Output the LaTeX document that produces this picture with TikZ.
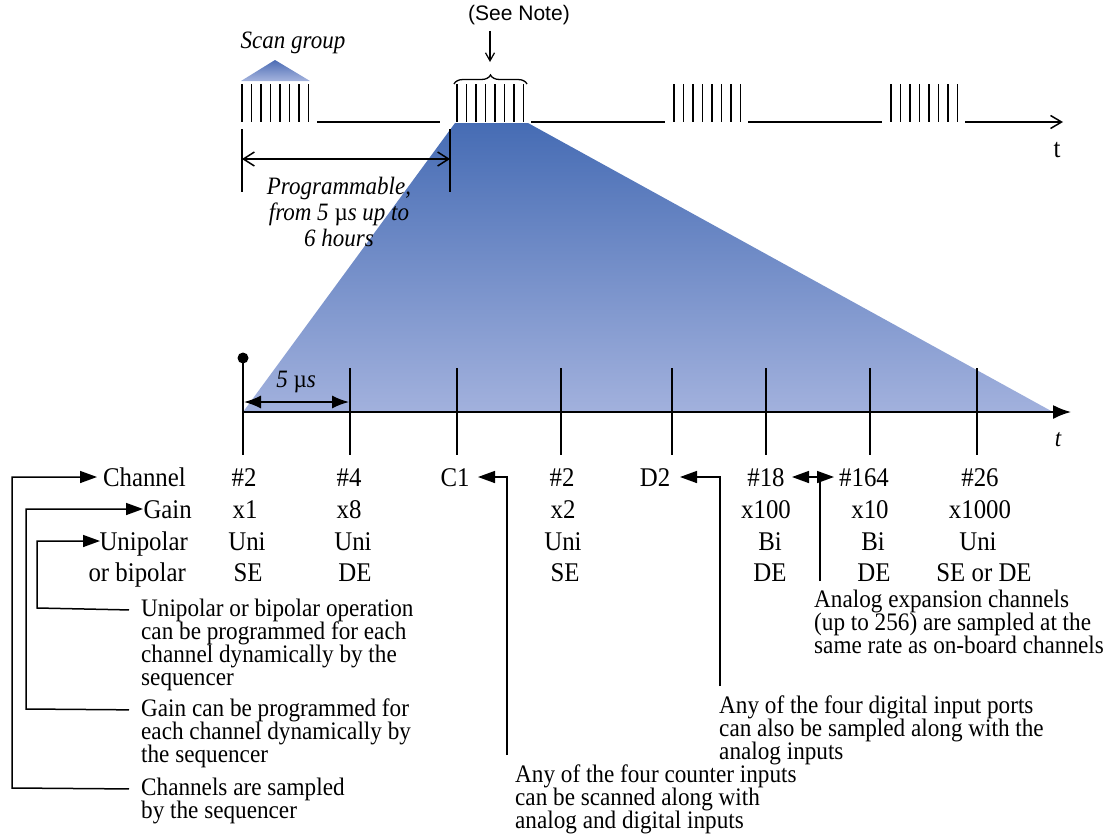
\documentclass[tikz,border=0pt]{standalone}
\usepackage{fontspec}
\setmainfont{Liberation Serif}
\setsansfont{Liberation Sans}
\newfontfamily\tallserif{Liberation Serif}[FakeStretch=0.92]
\usetikzlibrary{arrows.meta,decorations.pathreplacing}
\definecolor{btop}{RGB}{70,108,180}
\definecolor{bbot}{RGB}{162,177,221}
\definecolor{stop}{RGB}{76,108,180}
\definecolor{sbot}{RGB}{165,180,222}
\begin{document}
\begin{tikzpicture}[x=1pt,y=-1pt,
  bar/.style={line width=1.6pt},
  tl/.style={line width=1.7pt},
  conn/.style={line width=1.5pt},
  arr/.style={conn,-{Triangle[length=17pt,width=12pt]}},
  lbl/.style={font=\tallserif\fontsize{27}{27}\selectfont, inner sep=0, anchor=base},
  rlbl/.style={lbl, anchor=base east},
  note/.style={font=\tallserif\fontsize{25.2}{23}\selectfont, inner sep=0, anchor=base west},
  itl/.style={font=\tallserif\itshape\fontsize{25}{26}\selectfont, inner sep=0}
]
\useasboundingbox (0,0) rectangle (1114,835);

% big shaded trapezoid
\shade[top color=btop, bottom color=bbot] (455,123) -- (528,123) -- (1053,412) -- (243,412) -- cycle;

% scan group
\shade[top color=stop, bottom color=sbot] (241,81) -- (275,60) -- (310,81) -- cycle;
\node[itl] (scan) at (293,43) {Scan group};

% bars
\foreach \g in {242,457,674,891}{
  \foreach \i in {0,...,7}{
    \draw[bar] ({\g+\i*9.5},84) -- ({\g+\i*9.5},122);
  }
}
% top time line
\draw[tl] (317,122) -- (440,122);
\draw[tl] (531,122) -- (665,122);
\draw[tl] (748,122) -- (882,122);
\coordinate (ttip) at (1063,122);
\draw[tl,-{Straight Barb[length=11pt,width=13pt,line width=1.5pt]}] (965,122) -- (ttip);
\node[font=\tallserif\fontsize{27}{27}\selectfont, inner sep=0] (tlab) at (1057,150) {t};

% brace and note
\draw[line width=1.3pt, decorate, decoration={brace, amplitude=9pt}] (454,84) -- (527,84);
\node[font=\sffamily\fontsize{21}{21}\selectfont, inner sep=0] (seenote) at (519,15) {(See Note)};
\coordinate (bracetip) at (490,62);
\draw[line width=1.3pt,-{Straight Barb[length=8pt,width=9pt,line width=1.2pt]}] (seenote.south -| bracetip) ++(0,6) -- (bracetip);

% programmable
\coordinate (pl) at (242,159);
\coordinate (pr) at (450,159);
\draw[conn] (242,129) -- (242,192);
\draw[conn] (450,129) -- (450,192);
\draw[conn,{Straight Barb[length=11pt,width=14pt,line width=1.5pt]}-{Straight Barb[length=11pt,width=14pt,line width=1.5pt]}] (pl) -- (pr);
\node[itl, align=center] (prog) at (339,212) {Programmable,\\from 5 {\upshape µ}s up to\\6 hours};

% bottom axis
\coordinate (a0) at (243,412);
\coordinate (aend) at (1071,412);
\draw[tl,-{Latex[length=18pt,width=14pt]}] (a0) -- (aend);
\fill (243,358) circle (5.5pt);
\draw[bar] (243,358) -- (243,455);
\foreach \x in {350,457,561,672,766,870,977}{
  \draw[bar] (\x,368) -- (\x,455);
}
\node[itl] (five) at (296,382) {5 {\upshape µ}s};
\draw[conn,{Latex[length=17pt,width=13pt]}-{Latex[length=17pt,width=13pt]}] (244,402) -- (349,402);
\node[itl] (tb) at (1058,440) {t};

% row labels
\node[rlbl] (chl) at (186,486) {Channel};
\node[rlbl] (gnl) at (192,518) {Gain};
\node[rlbl] (unl) at (188,550) {Unipolar};
\node[rlbl] (bpl) at (186,581) {or bipolar};

% column values
\node[lbl] (c1a) at (244,486) {\#2};
\node[lbl] (c1b) at (245,518) {x1};
\node[lbl] (c1c) at (247,550) {Uni};
\node[lbl] (c1d) at (248,581) {SE};
\node[lbl] (c2a) at (349,486) {\#4};
\node[lbl] (c2b) at (349,518) {x8};
\node[lbl] (c2c) at (353,550) {Uni};
\node[lbl] (c2d) at (355,581) {DE};
\node[lbl] (c3a) at (455,486) {C1};
\node[lbl] (c4a) at (562,486) {\#2};
\node[lbl] (c4b) at (563,518) {x2};
\node[lbl] (c4c) at (563,550) {Uni};
\node[lbl] (c4d) at (565,581) {SE};
\node[lbl] (c5a) at (655,486) {D2};
\node[lbl] (c6a) at (766,486) {\#18};
\node[lbl] (c6b) at (766,518) {x100};
\node[lbl] (c6c) at (770,550) {Bi};
\node[lbl] (c6d) at (770,581) {DE};
\node[lbl] (c7a) at (864,486) {\#164};
\node[lbl] (c7b) at (870,518) {x10};
\node[lbl] (c7c) at (873,550) {Bi};
\node[lbl] (c7d) at (874,581) {DE};
\node[lbl] (c8a) at (980,486) {\#26};
\node[lbl] (c8b) at (980,518) {x1000};
\node[lbl] (c8c) at (978,550) {Uni};
\node[lbl] (c8d) at (984,581) {SE or DE};

% notes
\node[note] (nu1) at (141,616) {Unipolar or bipolar operation};
\node[note] (nu2) at (141,639) {can be programmed for each};
\node[note] (nu3) at (141,662) {channel dynamically by the};
\node[note] (nu4) at (141,685) {sequencer};
\node[note] (ng1) at (141,716) {Gain can be programmed for};
\node[note] (ng2) at (141,739) {each channel dynamically by};
\node[note] (ng3) at (141,762) {the sequencer};
\node[note] (nc1) at (141,795) {Channels are sampled};
\node[note] (nc2) at (141,818) {by the sequencer};
\node[note] (na1) at (814,607) {Analog expansion channels};
\node[note] (na2) at (814,630) {(up to 256) are sampled at the};
\node[note] (na3) at (814,653) {same rate as on-board channels};
\node[note] (nd1) at (719,713) {Any of the four digital input ports};
\node[note] (nd2) at (719,736) {can also be sampled along with the};
\node[note] (nd3) at (719,759) {analog inputs};
\node[note] (nk1) at (515,782) {Any of the four counter inputs};
\node[note] (nk2) at (515,805) {can be scanned along with};
\node[note] (nk3) at (515,828) {analog and digital inputs};

% connectors
\coordinate (chT) at (97,477);
\coordinate (gnT) at (143,509);
\coordinate (unT) at (100,541);
\draw[arr] (nu1.west) ++(-12,0) -- (37,608) |- (unT);
\draw[arr] (ng1.west) ++(-12,0) -- (26,709) |- (gnT);
\draw[arr] (nc1.west) ++(-12,0) -- (12,788) |- (chT);

\coordinate (c1T) at (478,477);
\coordinate (d2T) at (680,477);
\draw[arr] (507,755) |- (c1T);
\draw[arr] (720,686) |- (d2T);
\draw[conn] (820,581) -- (820,477);
\draw[conn,{Triangle[length=17pt,width=12pt]}-{Triangle[length=17pt,width=12pt]}] (792,477) -- (834,477);
\end{tikzpicture}
\end{document}
